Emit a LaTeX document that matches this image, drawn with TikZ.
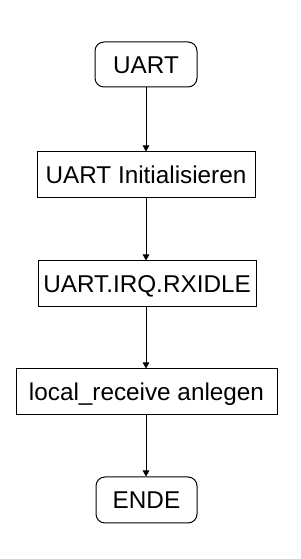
\documentclass[tikz,border=0pt]{standalone}
\usepackage{fontspec}
\setmainfont{Liberation Sans}
\usetikzlibrary{arrows.meta}
\begin{document}
\begin{tikzpicture}[x=1pt,y=1pt,
  base/.style={draw=black, line width=1pt, inner sep=0pt, font=\fontsize{24.3}{28}\selectfont, text height=17.4pt, text depth=0pt, align=center},
  term/.style={base, rounded corners=9pt},
  procbox/.style={base},
  conn/.style={line width=1pt, -{Triangle[length=6pt,width=6.5pt]}}]
\useasboundingbox (0,0) rectangle (300,559);
\node[term, minimum width=102pt, minimum height=45pt] (uart) at (146,494.5) {UART};
\node[procbox, minimum width=218pt, minimum height=46pt] (init) at (146,384) {UART Initialisieren};
\node[procbox, minimum width=218pt, minimum height=46pt] (irq) at (147,275) {UART.IRQ.RXIDLE};
\node[procbox, minimum width=261pt, minimum height=46pt] (loc) at (146.5,167) {local\_receive anlegen};
\node[term, minimum width=101pt, minimum height=46pt] (ende) at (146.5,59) {ENDE};
\draw[conn] (uart.south) -- (uart.south |- init.north);
\draw[conn] (init.south) -- (init.south |- irq.north);
\draw[conn] (irq.south -| init.south) -- (init.south |- loc.north);
\draw[conn] (loc.south -| init.south) -- (init.south |- ende.north);
\end{tikzpicture}
\end{document}
